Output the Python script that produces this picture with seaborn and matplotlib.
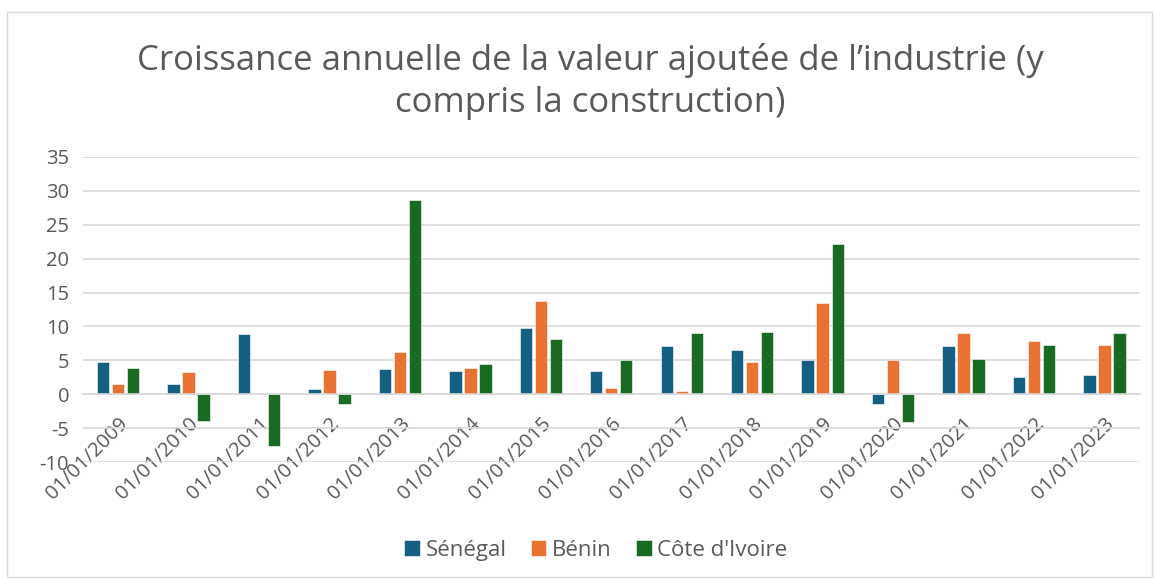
import numpy as np
import pandas as pd
import matplotlib
matplotlib.use("Agg")
import matplotlib.pyplot as plt
import seaborn as sns

dates = ["01/01/2009", "01/01/2010", "01/01/2011", "01/01/2012", "01/01/2013",
         "01/01/2014", "01/01/2015", "01/01/2016", "01/01/2017", "01/01/2018",
         "01/01/2019", "01/01/2020", "01/01/2021", "01/01/2022", "01/01/2023"]
senegal = [4.8, 1.5, 8.9, 0.8, 3.7, 3.4, 9.7, 3.5, 7.1, 6.5, 5.0, -1.5, 7.1, 2.6, 2.8]
benin = [1.5, 3.3, 0.1, 3.6, 6.2, 3.8, 13.7, 0.9, 0.5, 4.8, 13.5, 5.1, 9.1, 7.8, 7.3]
cote_ivoire = [3.8, -4.0, -7.6, -1.5, 28.7, 4.5, 8.2, 5.1, 9.0, 9.2, 22.2, -4.1, 5.2, 7.3, 9.0]
series = ["Sénégal", "Bénin", "Côte d'Ivoire"]
colors = ["#156082", "#E97132", "#196B24"]

df = pd.DataFrame({"date": dates, series[0]: senegal, series[1]: benin, series[2]: cote_ivoire})
long_df = df.melt(id_vars="date", var_name="pays", value_name="croissance")

sns.set_style("white")
plt.rcParams["font.family"] = ["Open Sans", "DejaVu Sans"]
plt.rcParams["axes.unicode_minus"] = False
text_color = "#595959"

fig = plt.figure(figsize=(11.57, 5.79), dpi=100)
ax = fig.add_axes([0.0717, 0.202, 0.9133, 0.527])

sns.barplot(data=long_df, x="date", y="croissance", hue="pays", hue_order=series,
            palette=colors, saturation=1, width=0.64, gap=0.18, ax=ax, legend=True,
            edgecolor="#FFFFFF", linewidth=0.4, zorder=3)

ax.set_ylim(-10, 35)
ax.set_xlim(-0.5, len(dates) - 0.5)
ax.set_yticks(np.arange(-10, 36, 5))
ax.yaxis.grid(True, color="#D9D9D9", linewidth=1.2, zorder=0)
ax.set_axisbelow(True)
for side in ["top", "right", "left"]:
    ax.spines[side].set_visible(False)
ax.spines["bottom"].set_position(("data", 0))
ax.spines["bottom"].set_color("#D9D9D9")
ax.spines["bottom"].set_linewidth(1.2)
ax.spines["bottom"].set_zorder(4)

ax.set_xticks(np.arange(-0.5, len(dates), 1), minor=True)
ax.tick_params(axis="x", which="minor", length=6, color="#D9D9D9", width=1.2)
ax.tick_params(axis="x", which="major", length=0, pad=14)
ax.tick_params(axis="y", length=0, pad=10)
ax.set_xticklabels(dates, rotation=45, ha="right", rotation_mode="anchor",
                   fontsize=14.5, color=text_color)
for lab in ax.get_yticklabels():
    lab.set_fontsize(14.5)
    lab.set_color(text_color)
ax.set_xlabel("")
ax.set_ylabel("")

handles, labels = ax.get_legend_handles_labels()
ax.legend_.remove()
fig.legend(handles, labels, loc="center", bbox_to_anchor=(0.515, 0.05), ncol=3,
           frameon=False, fontsize=16, handlelength=0.7, handleheight=0.7,
           handletextpad=0.25, columnspacing=1.1, labelcolor=text_color)

fig.text(0.51, 0.859, "Croissance annuelle de la valeur ajoutée de l\u2019industrie (y\ncompris la construction)",
         ha="center", va="center", fontsize=25, color=text_color, linespacing=1.3)

fig.patches.append(plt.Rectangle((0.006, 0.004), 0.99, 0.976, transform=fig.transFigure,
                                 fill=False, edgecolor="#D9D9D9", linewidth=1))

fig.savefig("out.png", dpi=100)
